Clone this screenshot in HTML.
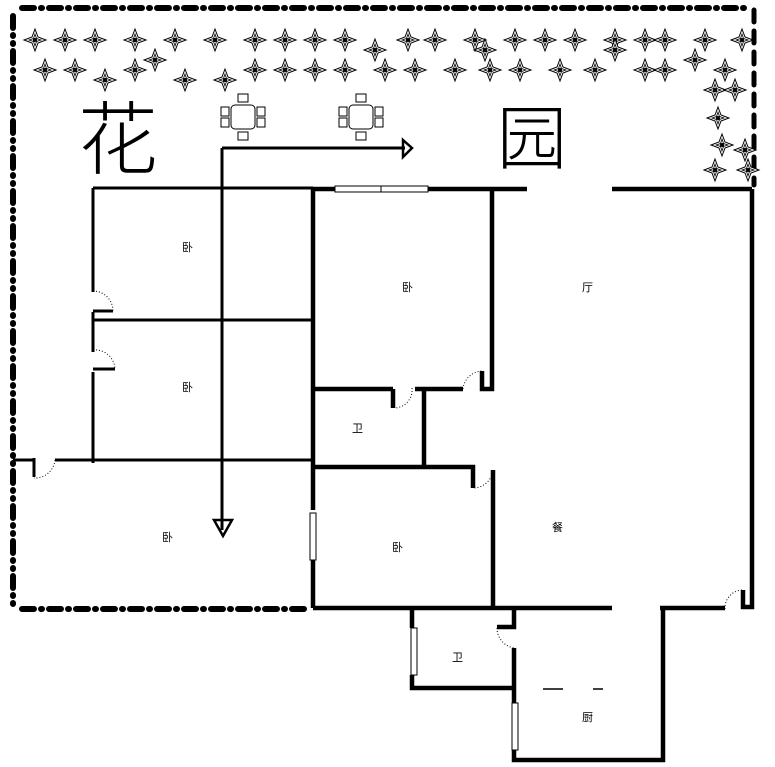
<!DOCTYPE html>
<html><head><meta charset="utf-8"><style>
body{margin:0;background:#fff;width:775px;height:767px;overflow:hidden}
svg{display:block}
.t{font-family:"Liberation Sans","Noto Sans CJK SC",sans-serif;font-size:11px;fill:#000}
</style></head><body>
<svg width="775" height="767" viewBox="0 0 775 767" xmlns="http://www.w3.org/2000/svg">
<defs>
<g id="f">
<path d="M0,-11 L3,-3 L11,0 L3,3 L0,11 L-3,3 L-11,0 L-3,-3 Z" fill="#fff" stroke="#000" stroke-width="1"/>
<path d="M0,-6 L1.5,-1.5 L6,0 L1.5,1.5 L0,6 L-1.5,1.5 L-6,0 L-1.5,-1.5 Z" fill="none" stroke="#000" stroke-width="0.8"/>
<circle r="2" fill="#000"/>
</g>
<g id="ch" fill="none" stroke="#000" stroke-width="1">
<rect x="-12" y="-12" width="24" height="24" rx="4"/>
<rect x="-5" y="-23" width="10" height="8"/><rect x="-5" y="15" width="10" height="8"/>
<rect x="-22" y="-10" width="8" height="9"/><rect x="-22" y="1" width="8" height="9"/>
<rect x="14" y="-10" width="8" height="9"/><rect x="14" y="1" width="8" height="9"/>
</g>
</defs>
<!-- boundary dash-dot -->
<g stroke="#000" stroke-linecap="round" fill="none">
<path d="M22,8 H750" stroke-width="6" stroke-dasharray="12 7 1 7"/>
<path d="M13,16 V605" stroke-width="6" stroke-dasharray="12 7 1 7 1 7"/>
<path d="M22,609 H305" stroke-width="6" stroke-dasharray="12 7 1 7"/>
<path d="M754,10 V185" stroke-width="5" stroke-dasharray="12 9"/>
</g>
<!-- flowers -->
<g>
<use href="#f" x="35" y="40"/><use href="#f" x="65" y="40"/><use href="#f" x="95" y="40"/><use href="#f" x="135" y="40"/><use href="#f" x="155" y="60"/>
<use href="#f" x="175" y="40"/><use href="#f" x="215" y="40"/><use href="#f" x="255" y="40"/><use href="#f" x="285" y="40"/><use href="#f" x="315" y="40"/>
<use href="#f" x="345" y="40"/><use href="#f" x="375" y="50"/><use href="#f" x="408" y="40"/><use href="#f" x="435" y="40"/><use href="#f" x="475" y="40"/>
<use href="#f" x="515" y="40"/><use href="#f" x="545" y="40"/><use href="#f" x="575" y="40"/><use href="#f" x="615" y="40"/><use href="#f" x="645" y="40"/>
<use href="#f" x="665" y="40"/><use href="#f" x="705" y="40"/><use href="#f" x="742" y="40"/>
<use href="#f" x="45" y="70"/><use href="#f" x="75" y="70"/><use href="#f" x="105" y="80"/><use href="#f" x="135" y="70"/><use href="#f" x="185" y="80"/>
<use href="#f" x="225" y="80"/><use href="#f" x="255" y="70"/><use href="#f" x="285" y="70"/><use href="#f" x="315" y="70"/><use href="#f" x="345" y="70"/>
<use href="#f" x="385" y="70"/><use href="#f" x="415" y="70"/><use href="#f" x="455" y="70"/><use href="#f" x="485" y="50"/><use href="#f" x="490" y="70"/>
<use href="#f" x="520" y="70"/><use href="#f" x="560" y="70"/><use href="#f" x="595" y="70"/><use href="#f" x="615" y="50"/><use href="#f" x="645" y="70"/>
<use href="#f" x="665" y="70"/><use href="#f" x="695" y="60"/><use href="#f" x="725" y="70"/>
<use href="#f" x="715" y="90"/><use href="#f" x="735" y="90"/><use href="#f" x="718" y="118"/><use href="#f" x="722" y="145"/><use href="#f" x="745" y="150"/>
<use href="#f" x="715" y="170"/><use href="#f" x="748" y="170"/>
</g>
<use href="#ch" x="243" y="117"/><use href="#ch" x="361" y="117"/>
<text x="78" y="168" style="font-family:'Noto Sans CJK SC',sans-serif;font-size:80px;font-weight:300">花</text>
<text x="497" y="163" style="font-family:'Noto Sans CJK SC',sans-serif;font-size:70px;font-weight:300">园</text>
<!-- arrows -->
<g stroke="#000" stroke-width="3" fill="none">
<path d="M222,148 H405 M222,148 V530"/>
<path d="M403,140 L412,148 L403,157 Z" stroke-width="2.5"/>
<path d="M214,520 L232,520 L223,536 Z" stroke-width="2.5"/>
</g>
<!-- thin outer rooms -->
<g stroke="#000" stroke-width="3" fill="none">
<path d="M93,188 H313"/>
<path d="M93,188 V292 M93,312 V352 M93,372 V463"/>
<path d="M93,320 H313 M13,460 H33 M55,460 H313"/>
<path d="M93,311 H113 M93,369 H115 M34,458 V477"/>
</g>
<g stroke="#000" stroke-width="1" stroke-dasharray="1 2" fill="none">
<path d="M93,291 A20,20 0 0 1 113,311"/><path d="M93,350 A20,20 0 0 1 115,369"/><path d="M55,460 A20,20 0 0 1 34,478"/>
<path d="M412,388 A18,18 0 0 1 395,408"/><path d="M463,389 A20,20 0 0 1 482,371"/>
<path d="M493,470 A20,20 0 0 1 474,488"/><path d="M497,628 A20,20 0 0 0 515,648"/><path d="M725,609 A18,18 0 0 1 743,590"/>
</g>
<!-- main walls -->
<g stroke="#000" stroke-width="4.5" fill="none">
<path d="M313,189 H335 M428,189 H527 M612,189 H752"/>
<path d="M313,189 V510 M313,560 V608"/>
<path d="M752,189 V590 M743,590 V607 H752 V590"/>
<path d="M313,608 H612 M660,608 H725"/>
<path d="M492,189 V389 H482 V371"/>
<path d="M313,389 H393 M393,389 V408 M415,389 H463"/>
<path d="M424,389 V467"/>
<path d="M313,467 H473 V488"/>
<path d="M493,470 V608"/>
<path d="M412,608 V628 M412,675 V688 H514"/>
<path d="M514,608 V627 H497 M514,648 V703 M514,750 V760 H663 V608"/>
</g>
<!-- windows -->
<g fill="#fff" stroke="#000" stroke-width="1">
<rect x="335" y="186" width="93" height="6"/><line x1="381" y1="186" x2="381" y2="192"/>
<rect x="310" y="513" width="6" height="47"/>
<rect x="411" y="628" width="6" height="47"/>
<rect x="512" y="703" width="6" height="47"/>
</g>
<g stroke="#000" stroke-width="1.5"><path d="M543,689 H563 M593,689 H603"/></g>
<!-- labels -->
<text class="t" x="182" y="251">卧</text>
<text class="t" x="182" y="391">卧</text>
<text class="t" x="162" y="541">卧</text>
<text class="t" x="402" y="291">卧</text>
<text class="t" x="392" y="551">卧</text>
<text class="t" x="582" y="291">厅</text>
<text class="t" x="352" y="432">卫</text>
<text class="t" x="452" y="661">卫</text>
<text class="t" x="552" y="531">餐</text>
<text class="t" x="582" y="721">厨</text>
</svg>
</body></html>
